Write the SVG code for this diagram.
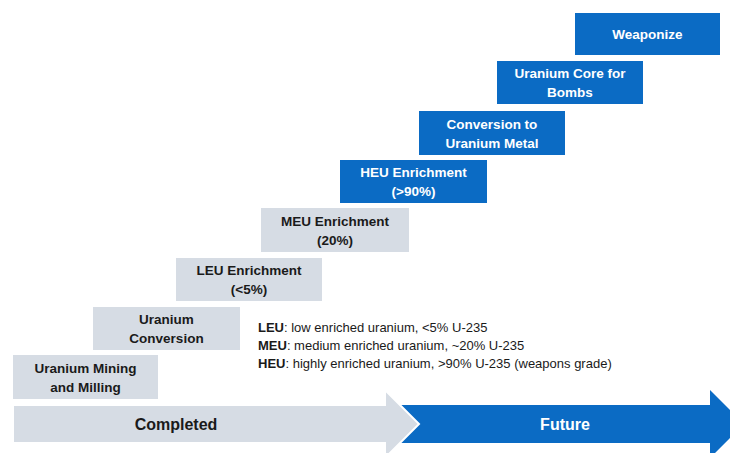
<svg xmlns="http://www.w3.org/2000/svg" width="730" height="453" viewBox="0 0 730 453">
<style>
.g{fill:#D6DCE4}
.b{fill:#0B6BC4}
.t{font-family:"Liberation Sans",Arial,sans-serif;font-weight:bold;font-size:13.5px;text-anchor:middle}
.dk{fill:#1a1a1a}
.wt{fill:#ffffff}
.lg{font-family:"Liberation Sans",Arial,sans-serif;font-size:13px;fill:#1a1a1a}
</style>
<rect width="730" height="453" fill="#ffffff"/>
<g id="connectors">
<polygon class="b" points="400,405 710,405 710,390 744,424 710,458 710,443 400,443"/>
<polygon class="g" points="13,405 385,405 385,390 419,424 385,458 385,443 13,443" stroke="#ffffff" stroke-width="2"/>
<text class="t dk" x="176" y="430" style="font-size:16px">Completed</text>
<text class="t wt" x="565" y="430" style="font-size:16px">Future</text>
</g>
<g id="n1"><rect class="g" x="13" y="355" width="145" height="44"/><text class="t dk" x="85.5" y="373">Uranium Mining</text><text class="t dk" x="85.5" y="392">and Milling</text></g>
<g id="n2"><rect class="g" x="93" y="307" width="147" height="43"/><text class="t dk" x="166.5" y="324">Uranium</text><text class="t dk" x="166.5" y="343">Conversion</text></g>
<g id="n3"><rect class="g" x="176" y="258" width="146" height="43"/><text class="t dk" x="249" y="275">LEU Enrichment</text><text class="t dk" x="249" y="294">(&lt;5%)</text></g>
<g id="n4"><rect class="g" x="261" y="208" width="148" height="44"/><text class="t dk" x="335" y="226">MEU Enrichment</text><text class="t dk" x="335" y="245">(20%)</text></g>
<g id="n5"><rect class="b" x="340" y="160" width="147" height="43"/><text class="t wt" x="413.5" y="177">HEU Enrichment</text><text class="t wt" x="413.5" y="196">(&gt;90%)</text></g>
<g id="n6"><rect class="b" x="419" y="111" width="146" height="44"/><text class="t wt" x="492" y="129">Conversion to</text><text class="t wt" x="492" y="148">Uranium Metal</text></g>
<g id="n7"><rect class="b" x="497" y="61" width="146" height="43"/><text class="t wt" x="570" y="78">Uranium Core for</text><text class="t wt" x="570" y="97">Bombs</text></g>
<g id="n8"><rect class="b" x="575" y="13" width="145" height="42"/><text class="t wt" x="647.5" y="39">Weaponize</text></g>
<g id="legend">
<text class="lg" x="258" y="332"><tspan font-weight="bold">LEU</tspan>: low enriched uranium, &lt;5% U-235</text>
<text class="lg" x="258" y="350"><tspan font-weight="bold">MEU</tspan>: medium enriched uranium, ~20% U-235</text>
<text class="lg" x="258" y="368"><tspan font-weight="bold">HEU</tspan>: highly enriched uranium, &gt;90% U-235 (weapons grade)</text>
</g>
</svg>
